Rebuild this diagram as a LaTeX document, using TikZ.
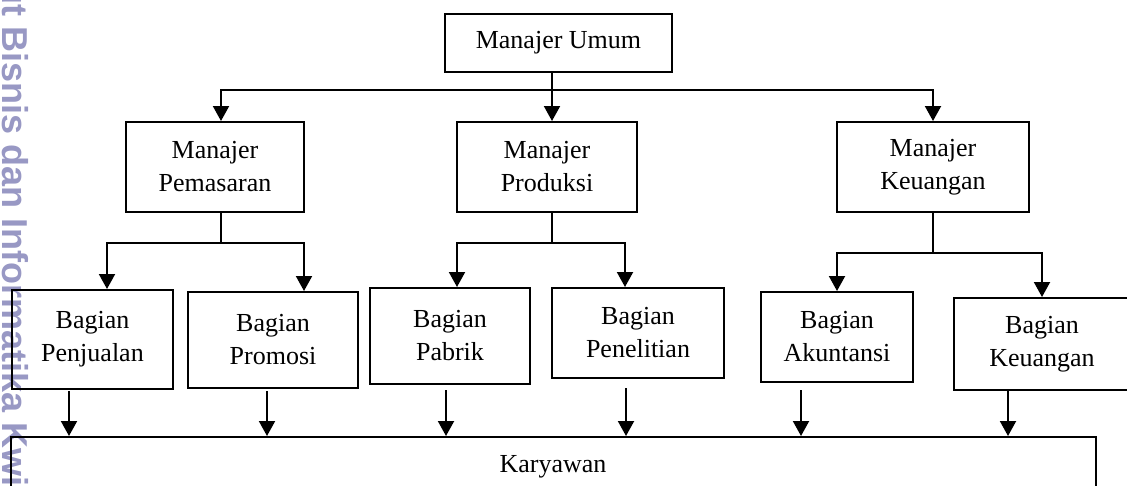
\documentclass[tikz,border=0pt]{standalone}
\usepackage{fontspec}
\setmainfont{Liberation Serif}
\newfontfamily\wmfont{Liberation Sans}
\usetikzlibrary{arrows.meta}
\definecolor{wmcol}{RGB}{152,152,196}
\begin{document}
\begin{tikzpicture}[x=1pt,y=-1pt,
  box/.style={draw, line width=2pt, inner sep=0pt, align=center, font=\fontsize{26}{33}\selectfont},
  ln/.style={line width=2pt},
  arr/.style={line width=2pt, -{Triangle[width=16pt,length=15pt]}}]
\useasboundingbox (0,0) rectangle (1127,485);
\clip (0,0) rectangle (1127,485);
% watermark
\node[rotate=-90, anchor=base west, inner sep=0pt, text=wmcol,
      font=\wmfont\bfseries\fontsize{36}{36}\selectfont] (wm) at (2,4)
      {\llap{Institu}t Bisnis dan Informatika Kwik Kian Gie};
% boxes
\node[box, minimum width=227pt, minimum height=58pt] (umum) at (558.5,43) {Manajer Umum};
\node[box, minimum width=178pt, minimum height=90pt] (pem) at (215,167) {Manajer\\Pemasaran};
\node[box, minimum width=180pt, minimum height=90pt] (prod) at (547,167) {Manajer\\Produksi};
\node[box, minimum width=192pt, minimum height=90pt] (keu) at (933,167) {Manajer\\Keuangan};
\node[box, minimum width=161pt, minimum height=99pt] (penj) at (92.5,339.5) {Bagian\\Penjualan};
\node[box, minimum width=170pt, minimum height=96pt] (prom) at (273,340) {Bagian\\Promosi};
\node[box, minimum width=160pt, minimum height=96pt] (pab) at (450,336) {Bagian\\Pabrik};
\node[box, minimum width=172pt, minimum height=90pt] (pen) at (638,333) {Bagian\\Penelitian};
\node[box, minimum width=152pt, minimum height=90pt] (aku) at (837,337) {Bagian\\Akuntansi};
\node[box, minimum width=176pt, minimum height=92pt] (bkeu) at (1042,344) {Bagian\\Keuangan};
\node[draw, line width=2pt, minimum width=1085pt, minimum height=100pt, inner sep=0pt, anchor=north] (kar) at (553.5,436) {};
\node[font=\fontsize{26}{33}\selectfont, anchor=base, inner sep=0pt] (kartxt) at (553,472) {Karyawan};
% top level
\coordinate (t0) at (552,90);
\coordinate (tl) at (221,90);
\draw[arr] (umum.south -| t0) -- (prod.north -| t0);
\draw[arr] (t0) -| (pem.north -| tl);
\draw[arr] (t0) -| (keu.north);
% pemasaran
\coordinate (p0) at (221,243);
\coordinate (pl) at (107,243);
\coordinate (pr) at (304,243);
\draw[ln] (pem.south -| p0) -- (p0);
\draw[arr] (p0) -| (penj.north -| pl);
\draw[arr] (p0) -| (prom.north -| pr);
% produksi
\coordinate (q0) at (552,243);
\coordinate (ql) at (457,243);
\coordinate (qr) at (625,243);
\draw[ln] (prod.south -| q0) -- (q0);
\draw[arr] (q0) -| (pab.north -| ql);
\draw[arr] (q0) -| (pen.north -| qr);
% keuangan
\coordinate (k0) at (933,253);
\draw[ln] (keu.south) -- (k0);
\draw[arr] (k0) -| (aku.north);
\draw[arr] (k0) -| (bkeu.north);
% to karyawan
\coordinate (b1) at (69,391);
\coordinate (b2) at (267,391);
\coordinate (b3) at (446,390);
\coordinate (b4) at (626,388);
\coordinate (b5) at (801,390);
\coordinate (b6) at (1008,390);
\foreach \b in {b1,b2,b3,b4,b5,b6}
  \draw[arr] (\b) -- (\b |- kar.north);
\end{tikzpicture}
\end{document}
